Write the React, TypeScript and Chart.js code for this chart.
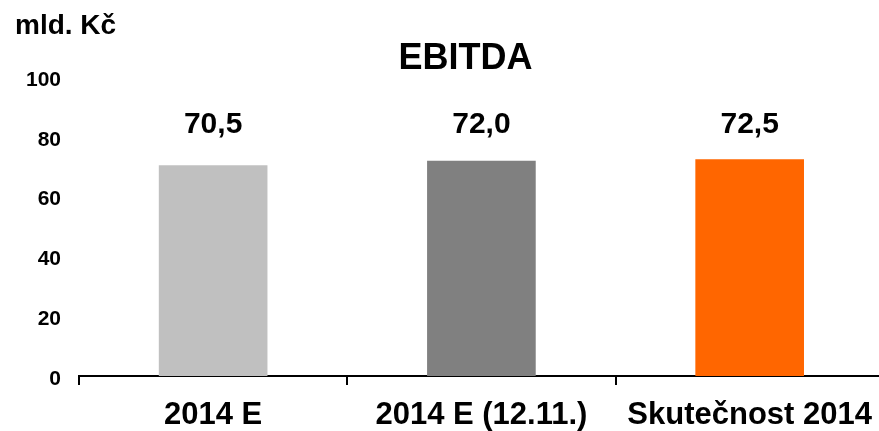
import React, { useEffect, useRef } from "react";
import { Chart, registerables } from "chart.js";

Chart.register(...registerables);

const CATEGORIES = ["2014 E", "2014 E (12.11.)", "Skutečnost 2014"];
const VALUES = [70.5, 72.0, 72.5];
const BAR_COLORS = ["#C0C0C0", "#808080", "#FF6600"];
const Y_MIN = 0;
const Y_MAX = 100;
const Y_STEP = 20;
const TITLE = "EBITDA";
const UNIT = "mld. Kč";

const FONT = "'Liberation Sans', Arial, sans-serif";

const fmt = (v: number) => v.toFixed(1).replace(".", ",");

const textPlugin = {
  id: "textPlugin",
  afterDatasetsDraw(chart: any) {
    const ctx = chart.ctx;
    const yScale = chart.scales.y;
    const meta = chart.getDatasetMeta(0);
    ctx.save();
    ctx.fillStyle = "#000";
    ctx.font = `bold 30px ${FONT}`;
    ctx.textAlign = "center";
    ctx.textBaseline = "alphabetic";
    const labelY = yScale.getPixelForValue(81.2);
    meta.data.forEach((bar: any, i: number) => {
      ctx.fillText(fmt(VALUES[i]), bar.x, labelY);
    });
    ctx.font = `bold 36px ${FONT}`;
    ctx.fillText(TITLE, 465.5, 69);
    ctx.font = `bold 28px ${FONT}`;
    ctx.textAlign = "left";
    ctx.fillText(UNIT, 15, 34);
    ctx.restore();
  },
};

export default function App() {
  const ref = useRef<HTMLCanvasElement | null>(null);

  useEffect(() => {
    if (!ref.current) return;
    const chart = new Chart(ref.current, {
      type: "bar",
      data: {
        labels: CATEGORIES,
        datasets: [
          {
            data: VALUES,
            backgroundColor: BAR_COLORS,
            borderWidth: 0,
            barPercentage: 0.405,
            categoryPercentage: 1,
          },
        ],
      },
      options: {
        responsive: false,
        animation: false,
        events: [],
        layout: { padding: { top: 77, left: 0, right: 0, bottom: 0 } },
        plugins: {
          legend: { display: false },
          title: { display: false },
          tooltip: { enabled: false },
        },
        scales: {
          x: {
            offset: true,
            grid: {
              display: true,
              offset: true,
              drawOnChartArea: false,
              drawTicks: true,
              tickLength: 9,
              color: "#000",
              lineWidth: 2,
            },
            border: { display: true, color: "#000", width: 2 },
            ticks: {
              color: "#000",
              font: { family: FONT, size: 31, weight: "bold" },
              padding: 12,
              maxRotation: 0,
              minRotation: 0,
              autoSkip: false,
            },
            afterFit: (scale: any) => {
              scale.height = 55;
            },
          },
          y: {
            min: Y_MIN,
            max: Y_MAX,
            grid: { display: false, drawTicks: false },
            border: { display: false },
            ticks: {
              stepSize: Y_STEP,
              color: "#000",
              font: { family: FONT, size: 21, weight: "bold" },
              padding: 18,
              labelOffset: 3,
            },
            afterFit: (scale: any) => {
              scale.width = 79;
            },
          },
        },
      },
      plugins: [textPlugin],
    });
    return () => chart.destroy();
  }, []);

  return (
    <div
      style={{
        position: "fixed",
        left: 0,
        top: 0,
        width: 879,
        height: 431,
        overflow: "hidden",
        background: "#fff",
      }}
    >
      <canvas ref={ref} width={884} height={431} style={{ display: "block" }} />
    </div>
  );
}
